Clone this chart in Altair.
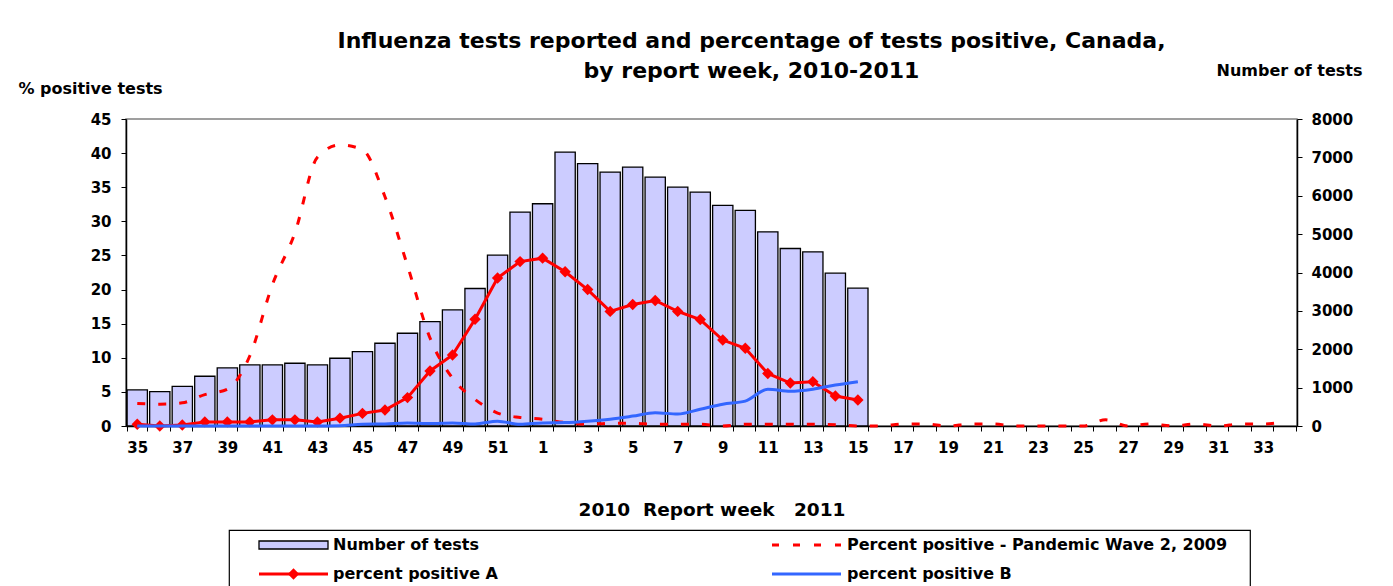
import altair as alt
import pandas as pd

# ---------------- data ----------------
weeks = [str(w) for w in range(35, 53)] + [str(w) for w in range(1, 35)]

# Number of tests, weeks 35 (2010) .. 15 (2011)
tests = [939, 896, 1035, 1296, 1513, 1591, 1591, 1635, 1591, 1765, 1939, 2157,
         2417, 2722, 3026, 3583, 4452, 5574, 5792, 7139, 6835, 6618, 6748, 6487,
         6226, 6096, 5748, 5618, 5061, 4626, 4539, 3983, 3592]

# percent positive A, weeks 35 .. 15
pct_a = [0.25, 0.0, 0.15, 0.6, 0.6, 0.6, 0.9, 0.9, 0.6, 1.15, 1.85, 2.35,
         4.16, 8.07, 10.4, 15.65, 21.7, 24.1, 24.6, 22.6, 20.0, 16.8, 17.8, 18.4,
         16.8, 15.6, 12.6, 11.4, 7.7, 6.3, 6.5, 4.4, 3.8]

# percent positive B, weeks 35 .. 15
pct_b = [0.0, 0.0, 0.0, 0.0, 0.0, 0.0, 0.0, 0.0, 0.0, 0.05, 0.25, 0.3,
         0.45, 0.35, 0.45, 0.3, 0.7, 0.25, 0.45, 0.5, 0.7, 1.0, 1.45, 1.95,
         1.75, 2.45, 3.2, 3.65, 5.4, 5.1, 5.4, 6.0, 6.5]

# Percent positive - Pandemic Wave 2, 2009 (all 52 weeks)
pandemic = [3.3, 3.2, 3.4, 4.6, 5.4, 10.3, 20.7, 28.3, 39.4, 41.2, 40.5, 33.6,
            23.5, 12.9, 7.0, 3.9, 1.9, 1.25,
            1.0, 0.5, 0.25, 0.4, 0.4, 0.25, 0.25, 0.25, 0.0, 0.25, 0.25, 0.25,
            0.25, 0.2, 0.0, 0.0, 0.3, 0.3, 0.0, 0.3, 0.3, 0.0, 0.0, 0.0, 0.0,
            0.9, 0.0, 0.3, 0.0, 0.3, 0.0, 0.3, 0.3, 0.7]

legend_labels = ["Number of tests", "Percent positive - Pandemic Wave 2, 2009",
                 "percent positive A", "percent positive B"]

title_lines = ["Influenza tests reported and percentage of tests positive, Canada,",
               "by report week, 2010-2011"]

n = len(weeks)


def pad(vals):
    return vals + [None] * (n - len(vals))


df = pd.DataFrame({"week": weeks, "tests": pad(tests), "A": pad(pct_a),
                   "B": pad(pct_b), "pandemic": pandemic})

# ---------------- styles ----------------
FONT = "DejaVu Sans"
RED = "#FF0000"
BLUE = "#3366FF"
LAV = "#CCCCFF"
PLOT_W, PLOT_H = 1171, 307

x_enc = alt.X(
    "week:O", sort=weeks,
    scale=alt.Scale(domain=weeks, paddingInner=0.1, paddingOuter=0.05),
    axis=alt.Axis(
        title="2010\u00a0\u00a0Report week\u00a0\u00a0\u00a02011",
        labelExpr="toNumber(datum.value) % 2 == 1 ? datum.value : ''",
        labelAngle=0, tickBand="extent", tickSize=5, labelPadding=9,
        domainColor="black", domainWidth=1.5, tickColor="black",
        titleY=74, titleFontSize=18.5,
    ),
)

right_axis = alt.Axis(
    orient="right", values=list(range(0, 8001, 1000)), format="d",
    title="Number of tests",
    titleAngle=0, titleX=-8, titleY=-44, titleAlign="center",
    titleBaseline="alphabetic", titleFontSize=16, labelPadding=9, tickSize=5,
    domainColor="black", domainWidth=1.5, tickColor="black",
)

left_axis = alt.Axis(
    orient="left", values=list(range(0, 46, 5)), title="% positive tests",
    titleAngle=0, titleX=-36, titleY=-26, titleAlign="center",
    titleBaseline="alphabetic", titleFontSize=16, labelPadding=10, tickSize=5,
    domainColor="black", domainWidth=1.5, tickColor="black",
)


def y_pct(field):
    return alt.Y(f"{field}:Q", scale=alt.Scale(domain=[0, 45], nice=False),
                 axis=left_axis)


bars = alt.Chart(df).mark_bar(fill=LAV, stroke="black", strokeWidth=1.3).encode(
    x=x_enc,
    y=alt.Y("tests:Q", scale=alt.Scale(domain=[0, 8000], nice=False), axis=right_axis),
)

pand = alt.Chart(df).mark_line(color=RED, strokeWidth=3, strokeDash=[8, 13],
                               interpolate="monotone").encode(x=x_enc, y=y_pct("pandemic"))

line_a = alt.Chart(df).mark_line(
    color=RED, strokeWidth=3,
    point=alt.OverlayMarkDef(shape="diamond", size=130, filled=True, color=RED),
).encode(x=x_enc, y=y_pct("A"))

line_b = alt.Chart(df).mark_line(color=BLUE, strokeWidth=3,
                                 interpolate="monotone").encode(x=x_enc, y=y_pct("B"))

pct_layer = alt.layer(pand, line_a, line_b)

main = alt.layer(bars, pct_layer).resolve_scale(y="independent").properties(
    width=PLOT_W, height=PLOT_H,
    title=alt.TitleParams(text=title_lines, font=FONT, fontSize=22, fontWeight="bold",
                          color="black", anchor="middle", frame="group", dx=40,
                          offset=-21, lineHeight=30),
    view=alt.ViewBackground(stroke="#808080", strokeWidth=1.5),
)

# ---------------- legend ----------------
LEG_W, LEG_H = 1021, 60
leg_df = pd.DataFrame({
    "label": legend_labels,
    "sx": [30, 543, 30, 543],
    "ex": [99, 612, 99, 612],
    "ty": [15, 15, 44, 44],
    "tx": [104, 618, 104, 618],
})
lx = alt.Scale(domain=[0, LEG_W], nice=False, zero=False)
ly = alt.Scale(domain=[0, LEG_H], nice=False, zero=False, reverse=True)

leg_base = alt.Chart(leg_df)
leg_rect = leg_base.transform_filter(alt.datum.label == legend_labels[0]).transform_calculate(
    y1="datum.ty - 4", y2="datum.ty + 4"
).mark_rect(fill=LAV, stroke="black", strokeWidth=1.3).encode(
    x=alt.X("sx:Q", scale=lx, axis=None), x2="ex:Q",
    y=alt.Y("y1:Q", scale=ly, axis=None), y2="y2:Q",
)
leg_dash = leg_base.transform_filter(alt.datum.label == legend_labels[1]).mark_rule(
    color=RED, strokeWidth=3, strokeDash=[7, 14]
).encode(x=alt.X("sx:Q", scale=lx, axis=None), x2="ex:Q", y=alt.Y("ty:Q", scale=ly, axis=None))
leg_a = leg_base.transform_filter(alt.datum.label == legend_labels[2]).mark_rule(
    color=RED, strokeWidth=3
).encode(x=alt.X("sx:Q", scale=lx, axis=None), x2="ex:Q", y=alt.Y("ty:Q", scale=ly, axis=None))
leg_a_pt = leg_base.transform_filter(alt.datum.label == legend_labels[2]).transform_calculate(
    mx="(datum.sx + datum.ex) / 2"
).mark_point(shape="diamond", size=130, filled=True, color=RED, opacity=1).encode(
    x=alt.X("mx:Q", scale=lx, axis=None), y=alt.Y("ty:Q", scale=ly, axis=None))
leg_b = leg_base.transform_filter(alt.datum.label == legend_labels[3]).mark_rule(
    color=BLUE, strokeWidth=3
).encode(x=alt.X("sx:Q", scale=lx, axis=None), x2="ex:Q", y=alt.Y("ty:Q", scale=ly, axis=None))
leg_text = leg_base.mark_text(align="left", baseline="middle", font=FONT, fontWeight="bold",
                              fontSize=16, color="black").encode(
    x=alt.X("tx:Q", scale=lx, axis=None), y=alt.Y("ty:Q", scale=ly, axis=None), text="label:N")

legend = alt.layer(leg_rect, leg_dash, leg_a, leg_a_pt, leg_b, leg_text).properties(
    width=LEG_W, height=LEG_H, view=alt.ViewBackground(stroke="black", strokeWidth=1.2))

spacer = alt.Chart(pd.DataFrame({"v": [0]})).mark_point(opacity=0).encode(
    x=alt.X("v:Q", axis=None), y=alt.Y("v:Q", axis=None)
).properties(width=102, height=LEG_H, view=alt.ViewBackground(strokeOpacity=0))

bottom = alt.hconcat(spacer, legend, spacing=0)

chart = alt.vconcat(main, bottom, spacing=9).properties(
    padding={"left": 9, "top": 21, "right": 0, "bottom": 0},
    background="white",
).configure_axis(
    grid=False, labelFont=FONT, labelFontWeight="bold", labelFontSize=15,
    labelColor="black", titleFont=FONT, titleFontWeight="bold", titleColor="black",
)

chart.save("out.html", embed_options={"renderer": "svg", "actions": False})
